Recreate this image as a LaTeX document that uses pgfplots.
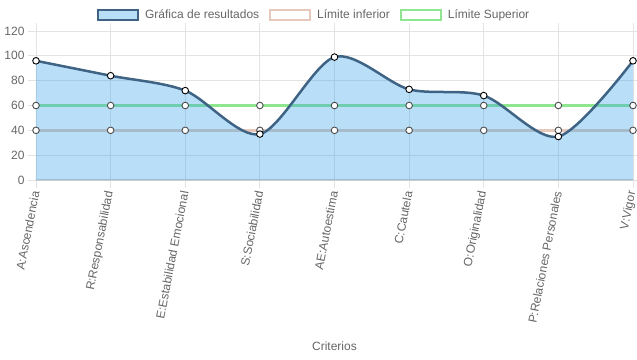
\documentclass[border=0pt]{standalone}
\usepackage{fontspec}
\setmainfont{Liberation Sans}
\usepackage{pgfplots}
\pgfplotsset{compat=1.18}
\definecolor{txt}{HTML}{666666}
\definecolor{gridc}{HTML}{E3E3E3}
\definecolor{axc}{HTML}{CFCFCF}
\definecolor{mainline}{HTML}{3E6384}
\definecolor{mainfill}{RGB}{54,162,235}
\definecolor{lowc}{HTML}{E6C9BB}
\definecolor{upc}{HTML}{8EE68E}
\begin{document}
\begin{tikzpicture}
\begin{axis}[name=ax, scale only axis, width=597pt, height=149pt,
  xmin=0, xmax=8, ymin=0, ymax=120,
  ytick={0,20,...,120}, xtick={0,...,8},
  xticklabels={A:Ascendencia,R:Responsabilidad,E:Estabilidad Emocional,S:Sociabilidad,AE:Autoestima,C:Cautela,O:Originalidad,P:Relaciones Personales,V:Vigor},
  /pgf/number format/assume math mode=true,
  grid=major, major grid style={gridc, line width=0.8pt},
  axis line style={gridc, line width=0.8pt},
  tick style={gridc, line width=0.8pt}, major tick length=8pt, tick align=outside,
  yticklabel style={font=\fontsize{12}{14}\selectfont, text=txt},
  xticklabel style={font=\fontsize{12}{14}\selectfont, text=txt, rotate=79, anchor=east},
  xlabel={Criterios}, xlabel style={at={(axis description cs:0.5,0)}, anchor=center, yshift=-166pt, font=\fontsize{12}{14}\selectfont, text=txt},
  legend style={at={(0.466,1)}, anchor=center, yshift=16pt, draw=none, fill=none, legend columns=3,
    font=\fontsize{12}{14}\selectfont, text=txt,
    /tikz/every odd column/.append style={column sep=4pt},
    /tikz/every even column/.append style={column sep=8pt}},
  legend cell align=left,
  clip=false,
]
\addlegendimage{legend image code/.code={\draw[line width=2pt, draw=mainline, fill=mainfill!35] (0pt,-5pt) rectangle (40pt,5pt);}}
\addlegendentry{Gráfica de resultados}
\addlegendimage{legend image code/.code={\draw[line width=2pt, draw=lowc, fill=white] (0pt,-5pt) rectangle (40pt,5pt);}}
\addlegendentry{Límite inferior}
\addlegendimage{legend image code/.code={\draw[line width=2pt, draw=upc, fill=white] (0pt,-5pt) rectangle (40pt,5pt);}}
\addlegendentry{Límite Superior}
\draw[axc, line width=1.3pt] (axis cs:0,0) -- (axis cs:8,0);
\addplot[forget plot, lowc, line width=2.5pt, mark=*, mark size=3.3pt, mark options={fill=white, draw=black!70, line width=0.9pt}]
  coordinates {(0,40) (1,40) (2,40) (3,40) (4,40) (5,40) (6,40) (7,40) (8,40)};
\addplot[forget plot, upc, line width=2.5pt, mark=*, mark size=3.3pt, mark options={fill=white, draw=black!70, line width=0.9pt}]
  coordinates {(0,60) (1,60) (2,60) (3,60) (4,60) (5,60) (6,60) (7,60) (8,60)};
\addplot[forget plot, draw=none, fill=mainfill, fill opacity=0.35, smooth]
  coordinates {(0,96) (1,84) (2,72) (3,37) (4,99) (5,73) (6,68) (7,35) (8,96)} \closedcycle;
\addplot[forget plot, mainline, line width=2.5pt, smooth, mark=*, mark size=3.3pt, mark options={fill=white, draw=black, line width=0.9pt}]
  coordinates {(0,96) (1,84) (2,72) (3,37) (4,99) (5,73) (6,68) (7,35) (8,96)};
\end{axis}
\pgfresetboundingbox
\path ([xshift=-36pt,yshift=-179pt]ax.south west) rectangle ([xshift=4pt,yshift=31pt]ax.north east);
\end{tikzpicture}
\end{document}
